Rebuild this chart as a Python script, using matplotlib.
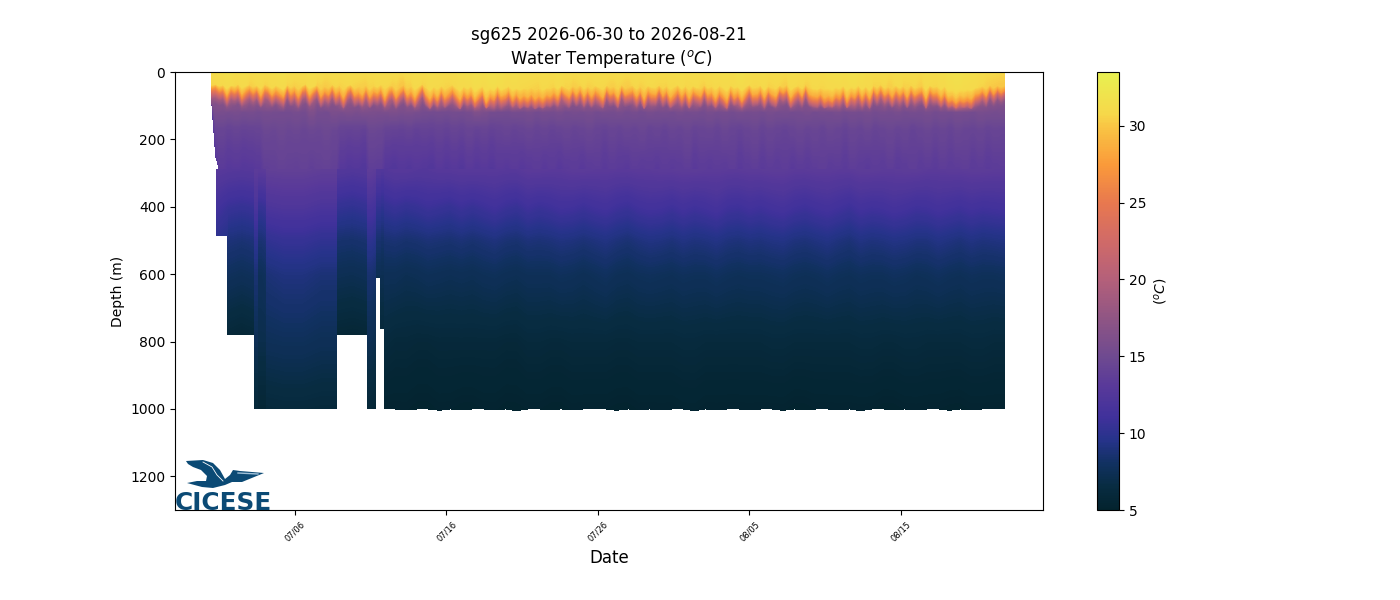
import numpy as np
import pandas as pd
import matplotlib
matplotlib.use('Agg')
import matplotlib.pyplot as plt
import matplotlib.dates as mdates
from matplotlib.cm import ScalarMappable
from matplotlib.colors import LinearSegmentedColormap, Normalize
from matplotlib.patches import Polygon
from matplotlib.transforms import IdentityTransform

# reference day for the profile times below
day_zero = pd.Timestamp('2026-06-30')
tick_dates = ['2026-07-06', '2026-07-16', '2026-07-26', '2026-08-05', '2026-08-15']

# upper ocean, one profile about every 6 h at the front levels
first_day = 0.52
last_day = 52.86
shallow_depth = [0, 42, 58, 73, 88, 100, 118, 170, 290]
taper_floor = [95, 250]
t_0 = [31.2,31.4,31.5,31.3,31.4,31.1,31.3,31.2,31.4,31.5,
       31.3,31.1,31.2,31.4,31.3,31.0,31.2,31.1,31.3,31.2,
       31.0,31.1,31.3,31.2,31.1,30.9,31.1,31.3,31.2,31.4,
       31.3,31.1,31.2,31.4,31.5,31.6,31.5,31.7,31.6,31.4,
       31.5,31.3,31.2,31.1,31.3,31.2,31.4,31.1,31.0,31.2,
       31.1,31.3,31.2,31.0,31.1,30.9,31.2,31.1,31.3,31.2,
       31.1,31.3,31.4,31.2,31.3,31.1,31.2,31.3,31.4,31.3,
       31.6,31.4,31.2,31.3,31.1,31.2,31.0,31.3,31.2,31.1,
       31.3,31.2,31.4,31.5,31.4,31.6,31.5,31.3,31.1,31.2,
       31.0,31.3,31.1,31.2,31.0,31.3,31.2,31.4,31.6,31.7,
       31.5,31.4,31.2,30.9,30.8,30.7]
t_35 = [30.6,30.8,31.0,30.6,30.9,30.4,30.7,30.5,30.8,31.0,
        30.5,30.4,30.6,30.9,30.3,30.2,30.6,30.5,30.7,30.4,
        30.3,30.5,30.7,30.6,30.3,29.9,30.4,30.8,30.5,30.9,
        30.8,30.5,30.7,30.9,31.0,31.2,31.0,31.3,31.2,30.9,
        31.0,30.7,30.6,30.4,30.8,30.5,30.9,30.5,30.3,30.6,
        30.4,30.7,30.6,30.3,30.5,30.2,30.6,30.4,30.8,30.6,
        30.5,30.7,30.9,30.6,30.8,30.4,30.6,30.7,30.9,30.8,
        31.1,30.9,30.6,30.8,30.5,30.6,30.3,30.8,30.6,30.4,
        30.8,30.6,30.9,31.0,30.9,31.2,31.0,30.8,30.5,30.6,
        30.3,30.8,30.4,30.6,30.3,30.8,30.6,30.9,31.2,31.3,
        31.1,30.9,30.6,30.3,30.1,30.0]
t_50 = [26.5,27.5,28.8,27.9,29.1,28.3,27.6,28.8,28.0,29.2,
        27.0,28.5,27.4,28.9,26.8,28.1,27.9,29.0,28.2,27.5,
        29.0,27.8,28.6,29.3,28.0,27.1,28.4,29.1,27.7,28.8,
        29.4,28.2,29.0,28.6,29.5,29.8,29.3,29.9,29.6,29.2,
        29.4,28.6,29.1,28.3,29.0,28.4,29.2,28.1,27.8,28.9,
        28.2,29.0,28.5,27.9,28.7,27.6,28.8,28.0,29.1,28.6,
        28.0,28.9,29.3,28.4,29.0,27.9,28.5,29.1,29.4,28.8,
        29.6,29.2,28.4,28.9,27.8,28.6,27.5,28.9,28.3,27.9,
        28.8,28.2,29.3,29.6,29.0,29.8,29.4,28.7,27.8,28.5,
        27.4,28.9,27.9,28.6,27.6,28.8,28.2,29.2,29.8,30.0,
        29.6,29.0,28.3,27.6,27.2,26.9]
t_50_mid = [27.2,28.3,28.0,29.0,28.6,27.4,28.3,27.5,28.9,28.2,
            27.9,27.5,28.4,27.6,27.9,27.3,28.7,28.4,27.6,28.6,
            28.1,28.9,29.1,28.2,27.4,27.9,28.9,28.3,28.4,29.3,
            28.6,28.8,28.4,29.2,29.7,29.4,29.8,29.5,29.0,28.9,
            28.2,28.7,28.9,28.5,28.7,28.8,28.4,27.6,28.5,28.6,
            28.3,28.7,28.0,28.3,28.1,28.2,28.3,28.6,28.8,28.1,
            28.6,29.0,28.8,28.6,28.3,28.2,28.9,29.2,29.0,29.3,
            29.5,28.6,28.7,28.2,28.3,27.9,28.4,28.6,28.0,28.5,
            28.4,28.8,29.5,29.2,29.5,29.6,29.0,28.2,28.1,27.8,
            28.2,28.3,28.2,27.9,28.3,28.5,28.8,29.6,29.9,29.7,
            29.3,28.5,27.9,27.4,27.0,26.6]
t_65 = [22.0,22.6,25.0,23.2,25.8,24.2,22.8,25.1,23.4,25.9,
        22.4,24.6,22.7,25.2,21.9,24.0,23.5,25.6,24.3,22.9,
        25.7,23.3,24.8,26.4,23.9,22.1,24.5,26.0,23.0,25.2,
        26.6,24.2,25.8,24.9,26.8,27.4,26.2,27.6,27.0,26.0,
        26.5,24.8,25.9,24.1,25.7,24.3,26.2,23.8,23.0,25.2,
        24.0,25.8,24.6,23.2,25.0,22.6,25.3,23.6,26.0,24.8,
        23.5,25.5,26.4,24.3,25.9,23.2,24.7,26.1,26.7,25.2,
        27.1,26.2,24.4,25.6,23.0,24.8,22.4,25.4,24.0,23.1,
        25.3,23.9,26.3,27.0,25.8,27.4,26.6,25.0,23.0,24.5,
        22.3,25.4,23.2,24.8,22.6,25.2,24.0,26.2,27.4,27.9,
        27.0,25.8,24.2,22.6,21.8,21.2]
t_65_mid = [23.6,24.3,24.0,25.4,25.1,22.9,24.4,22.8,26.0,24.0,
            23.8,23.1,25.0,22.8,23.4,22.4,25.4,24.9,23.0,25.3,
            24.2,25.6,26.1,24.6,22.4,23.6,26.1,24.3,24.4,26.5,
            25.0,25.9,24.9,26.2,27.6,26.6,27.7,26.9,25.6,25.6,
            24.2,25.4,25.5,24.9,25.5,25.7,24.6,22.7,24.8,25.0,
            24.4,25.5,23.5,24.2,23.5,24.2,24.4,25.4,25.8,23.9,
            25.0,26.2,25.8,25.4,24.2,23.9,25.8,26.6,26.2,26.8,
            27.2,25.0,25.4,24.2,24.5,23.2,24.6,25.2,23.2,24.8,
            24.6,25.8,27.0,26.6,27.0,27.3,25.9,23.9,24.0,23.1,
            24.0,24.3,24.1,23.4,24.3,25.0,25.6,27.2,27.8,27.5,
            26.7,25.0,23.4,22.2,21.5,20.9]
t_80 = [18.0,18.4,20.0,18.8,20.6,19.4,18.5,20.2,18.9,20.8,
        18.2,19.7,18.4,20.3,17.9,19.2,18.9,20.6,19.5,18.6,
        20.7,18.8,19.9,21.4,19.1,18.0,19.6,21.0,18.7,20.3,
        21.6,19.4,20.8,20.0,22.0,22.9,21.2,23.2,22.4,21.0,
        21.5,19.9,20.9,19.3,20.7,19.5,21.2,19.0,18.6,20.3,
        19.2,20.8,19.7,18.7,20.1,18.3,20.4,18.9,21.0,19.9,
        18.9,20.5,21.4,19.5,20.9,18.7,19.8,21.1,21.8,20.3,
        22.2,21.2,19.6,20.6,18.6,19.9,18.2,20.5,19.2,18.6,
        20.4,19.1,21.3,22.1,20.8,22.8,21.7,20.1,18.6,19.6,
        18.1,20.5,18.7,19.9,18.3,20.3,19.2,21.2,22.6,23.4,
        22.0,20.8,19.4,18.3,17.8,17.4]
t_80_mid = [19.2,19.5,19.4,20.5,20.0,18.7,19.6,18.6,20.7,19.2,
            19.1,18.6,20.0,18.4,18.7,18.2,20.4,19.9,18.8,20.1,
            19.5,20.6,21.0,19.6,18.2,18.9,21.1,19.5,19.6,21.3,
            20.0,20.6,19.9,21.2,22.9,21.7,22.8,22.0,20.7,20.6,
            19.5,20.4,20.4,19.9,20.5,20.6,19.7,18.5,19.9,20.0,
            19.5,20.4,18.9,19.5,18.9,19.5,19.5,20.4,20.6,19.2,
            20.0,21.2,20.7,20.4,19.5,19.0,20.8,21.5,21.1,21.8,
            22.0,20.0,20.3,19.3,19.6,18.6,19.7,20.2,18.7,19.8,
            19.7,20.6,22.1,21.6,22.1,22.4,20.9,19.2,19.2,18.4,
            19.2,19.5,19.3,18.8,19.4,20.0,20.6,22.2,23.3,22.6,
            21.4,20.0,18.8,18.0,17.5,17.2]
t_95 = [16.4,16.5,17.2,16.6,17.5,16.9,16.5,17.3,16.7,17.6,
        16.4,17.0,16.5,17.3,16.2,16.8,16.6,17.5,17.0,16.5,
        17.6,16.6,17.1,18.0,16.8,16.3,16.9,17.8,16.5,17.3,
        18.2,16.9,17.6,17.2,18.4,19.2,17.9,19.6,18.8,17.8,
        18.1,17.1,17.7,16.9,17.5,17.0,17.9,16.7,16.5,17.3,
        16.8,17.6,17.0,16.5,17.2,16.4,17.4,16.6,17.8,17.1,
        16.6,17.5,18.0,17.0,17.7,16.5,17.1,17.9,18.4,17.3,
        18.8,17.9,17.0,17.5,16.5,17.1,16.3,17.5,16.8,16.5,
        17.4,16.8,18.0,18.7,17.6,19.2,18.3,17.2,16.5,17.0,
        16.3,17.5,16.5,17.1,16.4,17.3,16.8,17.9,19.0,19.8,
        18.6,17.6,16.9,16.4,16.2,16.0]
t_130 = [15.8,15.7,15.6,15.7,15.5,15.6,15.4,15.6,15.5,15.4,
         15.4,15.6,15.4,16.1,15.5,15.4,15.9,15.8,16.0,15.8,
         16.0,15.9,15.8,15.9,16.0,15.8,15.9,15.7,15.4,15.3,
         15.4,15.3,15.5,15.4,15.6,16.2,15.9,15.5,15.4,15.3,
         15.6,15.5,15.7,15.4,15.6,15.5,15.7,15.4,15.6,15.5,
         15.7,15.4,15.6,15.5,15.7,15.4,15.6,15.3,15.7,15.5,
         15.6,15.4,15.7,15.5,15.6,15.4,15.7,15.5,15.6,15.4,
         15.7,15.5,15.6,15.4,15.7,15.5,15.6,15.4,15.5,15.7,
         15.4,15.6,15.5,15.7,15.4,15.6,15.5,15.7,15.4,15.6,
         15.5,15.7,15.4,15.6,15.5,15.7,15.4,15.6,15.5,15.7,
         15.6,15.4,15.7,15.6,15.5,15.6]
t_200 = [14.2,14.4,14.1,14.3,14.1,14.2,14.3,14.7,14.6,14.8,
         14.6,14.7,14.5,14.7,14.6,14.8,14.6,14.2,14.1,14.2,
         14.0,14.7,14.6,14.2,14.1,14.0,14.2,13.9,14.1,14.0,
         14.2,14.0,14.3,14.1,14.4,14.1,14.3,14.0,14.2,14.4,
         14.1,14.3,14.5,14.2,14.4,14.1,14.3,14.5,14.2,14.4,
         14.6,14.3,14.1,14.4,14.2,14.5,14.3,14.6,14.2,14.4,
         14.1,14.5,14.3,14.6,14.2,14.4,14.5,14.2,14.6,14.3,
         14.1,14.4,14.6,14.2,14.5,14.3,14.1,14.4,14.6,14.3,
         14.5,14.2,14.6,14.4,14.1,14.5,14.3,14.6,14.2,14.4,
         14.6,14.3,14.5,14.1,14.4,14.6,14.3,14.5,14.2,14.6,
         14.4,14.3,14.5,14.2,14.4,14.3]
t_300 = [12.9,13.1,12.8,12.9,12.7,12.8,13.0,13.7,13.8,14.0,
         13.9,13.8,14.0,13.7,13.9,14.0,13.8,12.8,12.5,12.6,
         12.4,13.6,13.5,12.6,12.4,12.7,12.5,12.8,12.6,12.4,
         12.9,12.6,12.8,12.5,13.0,12.7,12.9,12.6,13.0,12.8,
         13.1,12.8,13.0,13.3,12.9,13.2,12.8,13.1,13.3,12.9,
         13.2,13.4,13.0,13.3,13.1,12.9,13.4,13.1,13.3,13.0,
         13.4,13.1,13.3,13.5,13.0,13.3,13.1,13.4,13.2,13.5,
         13.0,13.3,13.5,13.1,13.4,13.2,13.5,13.0,13.3,13.1,
         13.4,13.6,13.2,13.4,13.1,13.5,13.3,13.0,13.4,13.2,
         13.5,13.1,13.3,13.6,13.2,13.4,13.1,13.5,13.3,13.4,
         13.6,13.2,13.4,13.1,13.3,13.4]
# how far the thermocline sits above (-) or below (+) its usual depth, metres
front_shift = [-8,-14,-4,-12,6,-10,-2,-16,4,-6,-12,2,-8,10,-14,-4,8,-10,-2,12,
               -12,4,-8,14,-6,-16,6,-2,-10,12,-4,8,-14,2,-8,16,-6,-12,10,-2,
               6,-10,14,-6,2,-14,10,-4,-8,16,2,-12,8,-6,12,-2,-16,6,18,-4,
               10,-8,14,0,-12,6,20,-6,4,-10,12,2,-8,16,-2,8,-12,10,4,-6,
               12,6,18,8,14,4,20,10,16,6,12,-2,8,-10,4,14,-6,6,-12,10,
               -4,12,-8,2,16,-10,6,-2,14,-14,8,0,-8,12,-4,18,-10,2,6,-12,
               10,-6,14,0,-14,8,-4,16,-8,4,12,-12,6,-2,14,-8,2,18,-10,4,
               -6,12,-2,-14,8,4,-10,16,-4,6,12,-8,2,-12,14,0,-6,10,-14,6,
               10,14,6,16,8,12,-2,6,-10,14,-6,2,-12,10,-4,18,-8,4,-14,8,
               0,12,-10,6,-4,14,-12,8,2,-6,16,-10,4,-2,10,-8,12,6,16,8,
               14,10,18,6,4,-4,10,-12,6,-8,2,-6]

# deeper part: repeated days are jumps between dives of different reach
deep_depth = [290, 400, 500, 600, 800, 1000]
early_days = [0.85,1.58,1.58,2.50,3.36,3.36,3.50,3.55,3.76,3.76,3.82,3.82,4.10,
              4.15,5.30,6.50,7.70,8.77,8.77,9.80,10.82,10.82,11.00,11.35,11.35,11.68,11.68,11.94,11.94]
early_floor = [484,484,780,780,780,1000,1000,1000,1000,780,780,1000,1000,
               1000,1000,1000,1000,1000,780,780,780,1000,1000,1000,610,610,760,760,1000]
main_start, main_end = 12.6, 52.86
main_floor = [1000,1003,1000,1000,1004,1000,1002,1000,1000,1003,
              1000,1005,1000,1000,1002,1000,1003,1000,1000,1000,
              1004,1000,1002,1000,1003,1000,1000,1005,1000,1002,
              1000,1000,1003,1000,1000,1004,1000,1002,1000,1000,
              1003,1000,1005,1000,1000,1002,1000,1003,1000,1000,
              1004,1000,1002,1000,1000,1000]
d_300_early = [13.0,12.8,12.8,12.7,12.8,13.3,13.3,13.2,13.2,13.2,13.2,13.2,13.3,
               13.8,13.9,13.9,13.7,13.7,12.6,12.4,12.6,13.6,13.6,13.3,12.6,12.6,12.4,12.4,12.6]
d_400_early = [11.2,10.6,10.6,10.4,10.6,11.9,11.9,10.4,10.4,10.4,10.4,10.4,10.6,
               12.0,12.2,12.2,11.9,11.9,10.3,10.1,10.4,11.6,11.6,11.3,10.2,10.2,10.0,10.0,10.3]
d_500_early = [10.0,9.6,8.9,8.7,8.9,10.0,10.0,8.7,8.7,8.7,8.7,8.7,8.9,
               10.1,10.4,10.4,10.1,10.1,8.5,8.4,8.6,9.9,9.9,9.6,8.5,8.5,8.3,8.3,8.6]
d_600_early = [10.0,9.6,7.8,7.6,7.8,8.7,8.7,7.6,7.6,7.6,7.6,7.6,7.8,
               8.8,9.1,9.1,8.8,8.8,7.4,7.3,7.5,8.6,8.6,8.3,7.4,7.4,7.3,7.3,7.5]
d_800_early = [10.0,9.6,5.9,5.7,5.9,7.4,7.4,7.0,7.0,5.8,5.8,7.0,7.0,
               7.6,7.7,7.7,7.5,7.5,5.7,5.6,5.7,7.3,7.3,7.0,6.9,6.9,6.1,6.1,6.2]
d_1000_early = [10.0,9.6,5.7,5.6,5.7,5.9,5.9,5.6,5.6,5.7,5.7,5.6,5.6,
                6.0,6.1,6.1,6.0,6.0,5.6,5.5,5.6,5.8,5.8,5.6,6.0,6.0,6.0,6.0,5.2]
d_300_main = [12.9,12.7,12.9,13.0,13.0,12.9,13.2,13.1,13.3,13.2,13.1,13.2,13.3,13.4,
              13.3,13.2,13.3,13.4,13.2,13.3,13.2,13.4,13.3,13.4,13.2,13.3,13.4,13.3]
d_400_main = [10.6,10.5,10.6,10.8,10.8,10.7,11.0,10.9,11.1,11.1,10.9,11.1,11.2,11.3,
              11.2,11.0,11.2,11.3,11.1,11.2,11.1,11.3,11.2,11.3,11.1,11.2,11.3,11.2]
d_400_mid = [10.3,10.8,10.4,10.5,11.1,10.5,10.7,11.2,10.8,11.3,10.7,11.3,10.9,11.0,
             11.5,10.9,11.0,11.5,10.9,11.4,10.8,11.1,11.5,11.0,11.4,11.0,11.1,11.3]
d_500_main = [8.7,8.6,8.7,8.8,8.8,8.7,8.9,8.9,9.0,9.0,8.9,9.0,9.1,9.2,
              9.1,9.0,9.1,9.2,9.0,9.1,9.0,9.2,9.1,9.2,9.0,9.1,9.2,9.1]
d_500_mid = [8.5,8.8,8.6,8.6,9.0,8.6,8.8,9.1,8.8,9.2,8.7,9.2,8.9,9.0,
             9.3,8.9,9.0,9.3,8.9,9.3,8.8,9.0,9.3,9.0,9.3,8.9,9.0,9.2]
d_600_main = [7.5,7.4,7.5,7.5,7.6,7.5,7.6,7.6,7.7,7.7,7.6,7.7,7.7,7.8,
              7.7,7.7,7.7,7.8,7.7,7.7,7.7,7.8,7.7,7.8,7.7,7.7,7.8,7.7]
d_600_mid = [7.3,7.6,7.4,7.4,7.7,7.4,7.6,7.8,7.5,7.9,7.5,7.8,7.6,7.7,
             7.9,7.6,7.7,7.9,7.6,7.9,7.6,7.7,7.9,7.6,7.9,7.6,7.7,7.8]
d_800_main = [6.0,5.9,6.0,6.0,6.0,5.9,6.1,6.0,6.1,6.1,6.0,6.1,6.1,6.2,
              6.1,6.1,6.1,6.2,6.1,6.1,6.1,6.2,6.1,6.2,6.1,6.1,6.2,6.1]
d_1000_main = [5.2,5.1,5.2,5.1,5.2,5.1,5.2,5.1,5.2,5.2,5.1,5.2,5.2,5.3,
               5.2,5.2,5.2,5.2,5.1,5.2,5.2,5.2,5.1,5.2,5.2,5.1,5.2,5.2]

# colour ramp
ramp_temp = [5, 6.5, 8, 9.5, 11, 13, 15, 17.5, 20, 22.5, 25, 27.5, 30, 30.8, 33.5]
ramp_color = ['#03232e', '#082c42', '#113161', '#26338a', '#40319b', '#58399a', '#6f4a90',
              '#905584', '#b4607a', '#d06a68', '#e8784f', '#fa9a3a', '#f9c544', '#f6d84a', '#e8f050']
vmin, vmax = 5, 33.5

def to_num(days):
    return mdates.date2num(day_zero) + np.asarray(days)

def weave(row, row_mid):
    return np.column_stack([row, row_mid]).ravel()

def deep_row(early, main, mid):
    return np.concatenate([early, weave(main, mid)])

cmap = LinearSegmentedColormap.from_list(
    'thermal_like', [((t - vmin) / (vmax - vmin), c) for t, c in zip(ramp_temp, ramp_color)], N=256)
norm = Normalize(vmin, vmax)
levels = np.arange(vmin, vmax + 0.1, 0.1)

fig = plt.figure(figsize=(14, 6), dpi=100)
ax = fig.add_axes([175 / 1400, 90 / 600, 868 / 1400, 438 / 600])
cax = fig.add_axes([1097 / 1400, 90 / 600, 22 / 1400, 438 / 600])

# upper ocean
shallow = np.array([weave(t_0, t_0), weave(t_35, t_35), weave(t_50, t_50_mid), weave(t_65, t_65_mid),
                    weave(t_80, t_80_mid), weave(t_95, t_95), weave(t_130, t_130),
                    weave(t_200, t_200), weave(t_300, t_300)])
x_shallow = to_num(np.linspace(first_day, last_day, shallow.shape[1]))
X, Y = np.meshgrid(x_shallow, np.array(shallow_depth, dtype=float))
Y[1, :] += 0.5 * np.array(front_shift)
Y[2:5, :] += np.array(front_shift)
Y[5, :] += 0.5 * np.array(front_shift)
Y[:, 0] = np.minimum(Y[:, 0], taper_floor[0])
Y[:, 1] = np.minimum(Y[:, 1], taper_floor[1])
ax.contourf(X, Y, shallow, levels=levels, cmap=cmap, norm=norm, antialiased=False)

# deep part, each column stops at the depth its dive reached
deep = np.array([deep_row(d_300_early, d_300_main, d_300_main),
                 deep_row(d_400_early, d_400_main, d_400_mid),
                 deep_row(d_500_early, d_500_main, d_500_mid),
                 deep_row(d_600_early, d_600_main, d_600_mid),
                 deep_row(d_800_early, d_800_main, d_800_main),
                 deep_row(d_1000_early, d_1000_main, d_1000_main)])
deep_days = np.concatenate([early_days, np.linspace(main_start, main_end, len(main_floor))])
deep_floor = np.array(early_floor + main_floor, dtype=float)
X2, Y2 = np.meshgrid(to_num(deep_days), np.array(deep_depth, dtype=float))
Y2 = np.minimum(Y2, deep_floor)
Y2[-1, :] = deep_floor
ax.contourf(X2, Y2, deep, levels=levels, cmap=cmap, norm=norm, antialiased=False)

ax.set_xlim(mdates.date2num(pd.Timestamp('2026-06-28 02:00')), mdates.date2num(pd.Timestamp('2026-08-24 09:00')))
ax.set_ylim(1300, 0)
ax.set_yticks(range(0, 1201, 200))
ax.set_xticks([mdates.date2num(pd.Timestamp(d)) for d in tick_dates])
ax.xaxis.set_major_formatter(mdates.DateFormatter('%m/%d'))
ax.tick_params(axis='x', labelsize=6, labelrotation=45)
ax.set_xlabel('Date', fontsize=12)
ax.set_ylabel('Depth (m)')
ax.set_title('sg625 2026-06-30 to 2026-08-21\n Water Temperature ($^oC$)', fontsize=12)

cb = fig.colorbar(ScalarMappable(norm=norm, cmap=cmap), cax=cax)
cb.set_ticks([5, 10, 15, 20, 25, 30])
cb.set_label('($^oC$)', rotation=90)

# CICESE logo
logo_blue = '#0b4a75'
bird = [(186, 461), (203, 460), (213, 463), (220, 470), (225, 479), (230, 475), (233, 470),
        (240, 471), (264, 473), (242, 482), (232, 482), (225, 485), (213, 488), (202, 487),
        (187, 483), (197, 481), (206, 481), (207, 476), (201, 470), (193, 467), (188, 464)]
fig.add_artist(Polygon([(x, 600 - y) for x, y in bird], closed=True, facecolor=logo_blue,
                       edgecolor='none', transform=IdentityTransform()))
fig.add_artist(plt.Line2D([203, 212, 217, 223], [600 - 462, 600 - 467, 600 - 475, 600 - 481], color='white',
                          linewidth=0.6, transform=IdentityTransform()))
fig.add_artist(plt.Line2D([238, 258], [600 - 473, 600 - 474], color='#9fc0d8',
                          linewidth=1, transform=IdentityTransform()))
fig.text(175 / 1400, 90.5 / 600, 'CICESE', fontsize=17.8, fontweight='bold', color=logo_blue, ha='left', va='baseline')

fig.savefig('out.png', dpi=100)
